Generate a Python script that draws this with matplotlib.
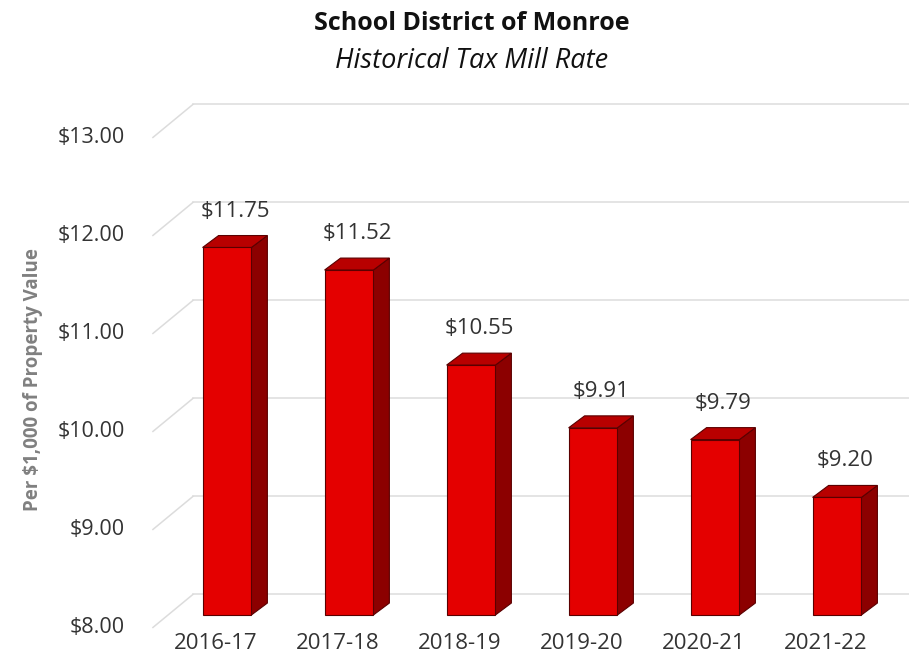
import matplotlib
matplotlib.use("Agg")
import matplotlib.pyplot as plt
from matplotlib.patches import Polygon
from matplotlib.transforms import ScaledTranslation

categories = ["2016-17", "2017-18", "2018-19", "2019-20", "2020-21", "2021-22"]
values = [11.75, 11.52, 10.55, 9.91, 9.79, 9.20]
yticks = [8, 9, 10, 11, 12, 13]
ytick_labels = ["$8.00", "$9.00", "$10.00", "$11.00", "$12.00", "$13.00"]
value_labels = ["$11.75", "$11.52", "$10.55", "$9.91", "$9.79", "$9.20"]

plt.rcParams['font.family'] = ['Open Sans', 'DejaVu Sans']
DPI = 100
fig = plt.figure(figsize=(9.09, 6.68), dpi=DPI)
ax = fig.add_axes([150/909, 38/668, 759/909, 540/668])
ax.set_xlim(-0.631, 5.59)
ax.set_ylim(7.847, 13.357)
for s in ax.spines.values():
    s.set_visible(False)

base = 8.0
bw = 0.40
ddx, ddy = 0.131, 0.122
back_dy = 0.21
wall_x = -0.279
front_x = -0.607
front_dy = -0.127
grid_c = "#dcdcdc"

# gridlines on back wall + floor/side diagonals
for v in yticks:
    ax.plot([wall_x, 5.59], [v + back_dy, v + back_dy], color=grid_c, lw=1.1, zorder=0)
    ax.plot([front_x, wall_x], [v + front_dy, v + back_dy], color=grid_c, lw=1.1, zorder=0)

front_c = "#e40000"
side_c = "#8c0000"
top_c = "#b80000"
edge_c = "#5a0000"

for i, v in enumerate(values):
    x0, x1 = i - bw/2, i + bw/2
    ax.bar(i, v - base, bottom=base, width=bw, color=front_c, edgecolor=edge_c, lw=0.8, zorder=3)
    side = Polygon([(x1, base), (x1 + ddx, base + ddy), (x1 + ddx, v + ddy), (x1, v)],
                   closed=True, facecolor=side_c, edgecolor=edge_c, lw=0.8, zorder=2)
    top = Polygon([(x0, v), (x1, v), (x1 + ddx, v + ddy), (x0 + ddx, v + ddy)],
                  closed=True, facecolor=top_c, edgecolor=edge_c, lw=0.8, zorder=2)
    ax.add_patch(side)
    ax.add_patch(top)
    ax.text(i + ddx/2, v + ddy + 0.25, value_labels[i], ha="center", va="center",
            fontsize=16, color="#333333", zorder=4)

ax.set_yticks(yticks)
ax.set_yticklabels(ytick_labels, fontsize=15.5, color="#333333")
ax.tick_params(axis="y", length=0, pad=18)
ax.set_xticks(range(len(categories)))
ax.set_xticklabels(categories, fontsize=16, color="#333333")
ax.tick_params(axis="x", length=0, pad=2)

yoff = ScaledTranslation(0, -10/DPI, fig.dpi_scale_trans)
for t in ax.get_yticklabels():
    t.set_transform(t.get_transform() + yoff)
xoff = ScaledTranslation(-11/DPI, 0, fig.dpi_scale_trans)
for t in ax.get_xticklabels():
    t.set_transform(t.get_transform() + xoff)

fig.text(33/909, 1 - 380/668, "Per $1,000 of Property Value", rotation=90, ha="center", va="center",
         fontsize=13.5, fontweight="bold", color="#808080")
fig.text(472/909, 1 - 23/668, "School District of Monroe", ha="center", va="center",
         fontsize=18, fontweight="bold", color="#111111")
fig.text(472/909, 1 - 61/668, "Historical Tax Mill Rate", ha="center", va="center",
         fontsize=19.5, fontstyle="italic", color="#111111")

fig.savefig("out.png", dpi=DPI)
